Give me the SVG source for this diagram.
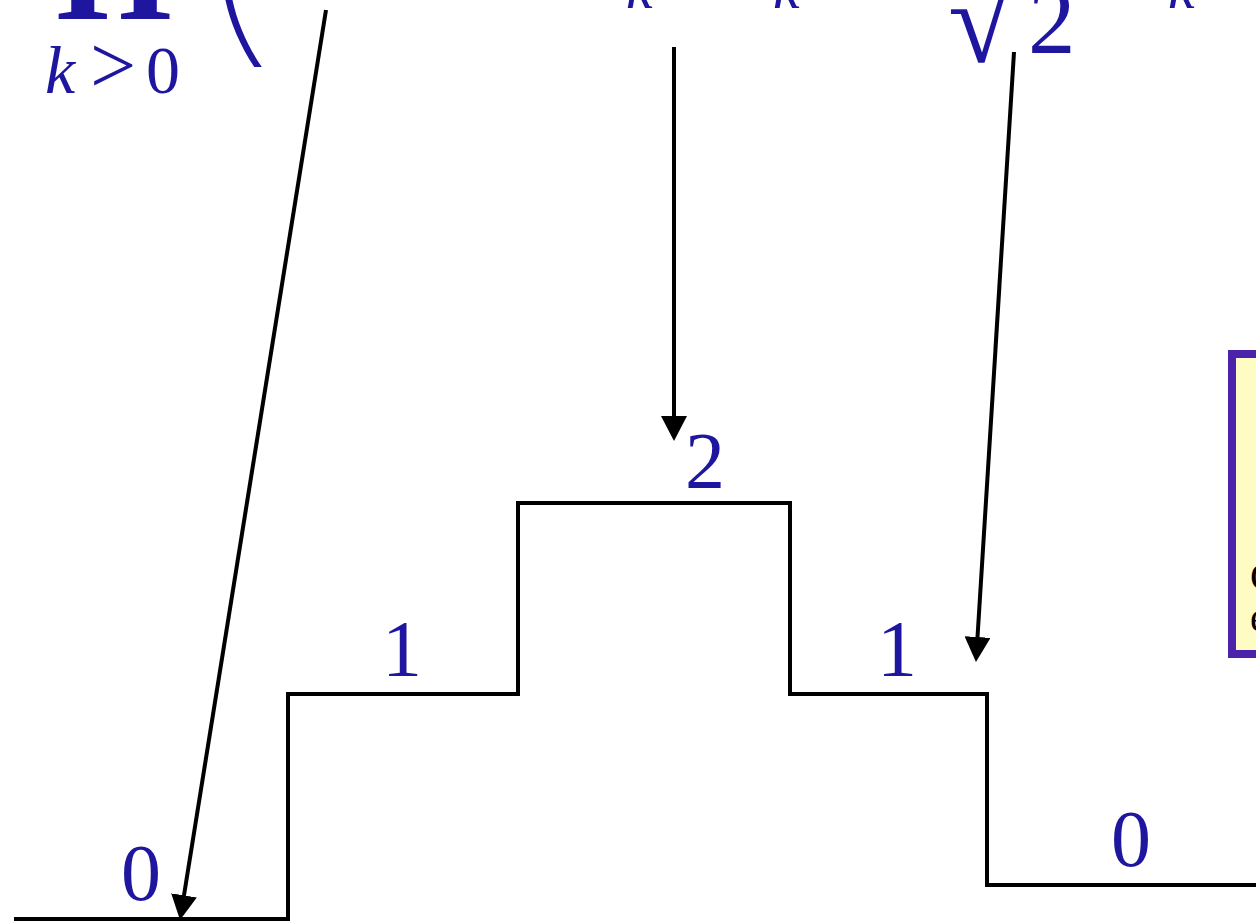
<svg xmlns="http://www.w3.org/2000/svg" width="1256" height="923" viewBox="0 0 1256 923">
<style>
.m{fill:#1f16a0;font-family:"Liberation Serif","DejaVu Serif",serif}
.i{font-style:italic}
.step{fill:none;stroke:#000;stroke-width:4;stroke-linejoin:miter}
.arr{stroke:#000;stroke-width:4;fill:none}
.lbl{fill:#1f16a0;font-family:"Liberation Serif","DejaVu Serif",serif;font-size:80px}
</style>
<defs>
<marker id="ah" markerUnits="userSpaceOnUse" markerWidth="26" markerHeight="26" refX="5" refY="13" orient="auto">
<path d="M0,0 L25,13 L0,26 z" fill="#000"/>
</marker>
</defs>
<rect width="1256" height="923" fill="#fff"/>
<g id="formula">
<text class="m" x="52" y="-13" font-size="150" font-weight="bold">∏</text>
<text class="m" y="93"><tspan class="i" x="45" font-size="68">k</tspan><tspan x="90" font-size="82">&gt;</tspan><tspan x="146" font-size="68">0</tspan></text>
<text x="0" y="0" font-family="Inter, 'Liberation Sans', sans-serif" font-weight="100" font-size="220" fill="#1f16a0" transform="translate(186,37) scale(1.4,1)">(</text>
<text class="m i" x="626" y="8" font-size="60">k</text>
<text class="m i" x="773" y="8" font-size="60">k</text>
<text class="m" x="948" y="62" font-size="120">√</text>
<text class="m" x="1028" y="53" font-size="95">2</text>
<text class="m i" x="1168" y="8" font-size="60">k</text>
</g>
<g id="note">
<rect x="1232" y="354" width="40" height="300" fill="#fffbc4" stroke="#4b22aa" stroke-width="8"/>
<text x="1250" y="590" font-family="Liberation Serif, serif" font-size="40" fill="#000">C</text>
<text x="1250" y="631" font-family="Liberation Serif, serif" font-size="40" fill="#000">e</text>
</g>
<g id="steps">
<path class="step" d="M14,919 H288 V694 H518 V503 H790 V694 H987 V885 H1260"/>
</g>
<g id="labels">
<text class="lbl" x="121" y="900">0</text>
<text class="lbl" x="382" y="676">1</text>
<text class="lbl" x="685" y="488">2</text>
<text class="lbl" x="877" y="676">1</text>
<text class="lbl" x="1111" y="866">0</text>
</g>
<g id="connectors">
<line class="arr" x1="326" y1="10" x2="183.2" y2="900.3" marker-end="url(#ah)"/>
<line class="arr" x1="674" y1="47" x2="674" y2="421" marker-end="url(#ah)"/>
<line class="arr" x1="1014" y1="52" x2="977.2" y2="642" marker-end="url(#ah)"/>
</g>
</svg>
